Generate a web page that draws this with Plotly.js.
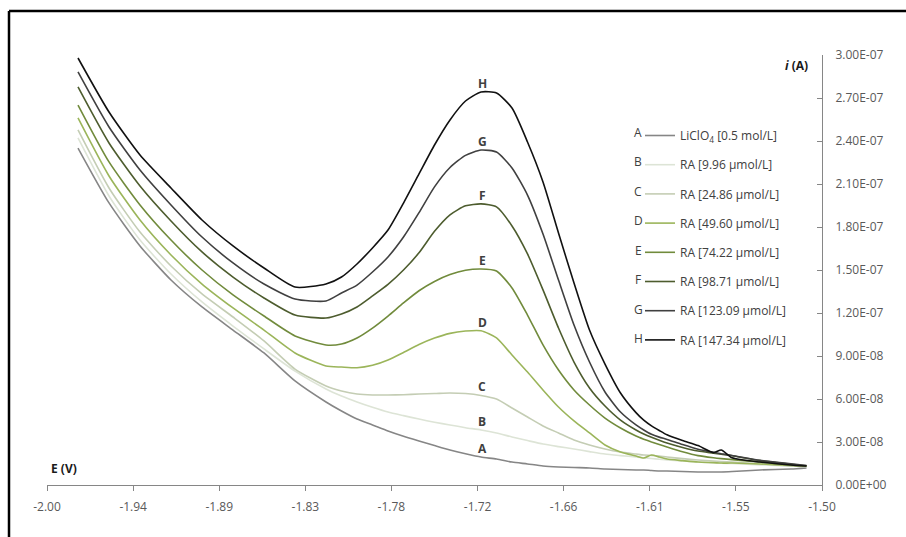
<!DOCTYPE html>
<html>
<head>
<meta charset="utf-8">
<script src="https://cdn.plot.ly/plotly-3.0.1.min.js"></script>
<style>
  html, body { margin: 0; padding: 0; background: #fff; overflow: hidden; }
  #chart { width: 906px; height: 537px; }
</style>
</head>
<body>
<div id="chart"></div>
<script>
// Potential E (V)
const E_V = [-1.98,-1.96,-1.94,-1.92,-1.90,-1.88,-1.86,-1.84,-1.82,-1.81,-1.80,-1.79,-1.78,-1.77,-1.76,-1.75,-1.74,-1.73,-1.72,-1.71,-1.70,-1.69,-1.68,-1.67,-1.66,-1.65,-1.64,-1.63,-1.62,-1.615,-1.61,-1.605,-1.60,-1.59,-1.58,-1.57,-1.565,-1.558,-1.54,-1.52,-1.51];

// Current i, in units of 1e-7 A
const curveA = [2.351,1.968,1.668,1.430,1.242,1.081,0.921,0.726,0.579,0.516,0.460,0.419,0.377,0.340,0.307,0.275,0.244,0.218,0.195,0.181,0.160,0.147,0.133,0.126,0.122,0.119,0.112,0.108,0.105,0.105,0.101,0.098,0.098,0.094,0.091,0.091,0.091,0.094,0.105,0.112,0.119];
const curveB = [2.421,2.016,1.709,1.472,1.277,1.109,0.949,0.795,0.670,0.621,0.579,0.542,0.509,0.484,0.460,0.438,0.419,0.400,0.384,0.363,0.335,0.310,0.286,0.268,0.251,0.233,0.216,0.205,0.195,0.190,0.185,0.180,0.174,0.167,0.160,0.155,0.152,0.150,0.140,0.133,0.129];
const curveC = [2.477,2.072,1.765,1.528,1.333,1.172,1.005,0.809,0.691,0.656,0.635,0.628,0.628,0.630,0.635,0.638,0.642,0.638,0.625,0.600,0.537,0.474,0.412,0.363,0.314,0.279,0.251,0.230,0.216,0.209,0.206,0.202,0.195,0.184,0.174,0.167,0.164,0.160,0.147,0.133,0.129];
const curveD = [2.561,2.156,1.849,1.605,1.402,1.235,1.081,0.921,0.830,0.823,0.818,0.835,0.872,0.925,0.980,1.025,1.058,1.074,1.076,1.026,0.907,0.788,0.663,0.544,0.447,0.363,0.279,0.230,0.202,0.188,0.209,0.195,0.181,0.170,0.160,0.156,0.153,0.153,0.147,0.136,0.133];
const curveE = [2.651,2.254,1.954,1.709,1.500,1.326,1.179,1.040,0.977,0.984,1.026,1.095,1.179,1.270,1.355,1.420,1.468,1.498,1.507,1.493,1.375,1.186,0.977,0.802,0.663,0.558,0.467,0.398,0.342,0.320,0.300,0.282,0.265,0.232,0.205,0.190,0.184,0.177,0.160,0.140,0.133];
const curveF = [2.777,2.386,2.086,1.842,1.626,1.451,1.305,1.186,1.165,1.193,1.242,1.319,1.400,1.500,1.620,1.770,1.885,1.948,1.961,1.940,1.807,1.612,1.361,1.095,0.858,0.677,0.551,0.453,0.384,0.356,0.333,0.312,0.293,0.262,0.237,0.222,0.214,0.204,0.170,0.145,0.134];
const curveG = [2.882,2.498,2.198,1.954,1.730,1.549,1.402,1.298,1.284,1.340,1.395,1.486,1.591,1.730,1.900,2.080,2.215,2.300,2.337,2.323,2.212,2.023,1.751,1.430,1.116,0.858,0.649,0.509,0.419,0.384,0.354,0.334,0.318,0.282,0.250,0.228,0.218,0.206,0.172,0.148,0.136];
const curveH = [2.979,2.602,2.302,2.072,1.849,1.668,1.514,1.381,1.402,1.451,1.542,1.654,1.779,1.967,2.170,2.372,2.547,2.679,2.742,2.735,2.630,2.393,2.114,1.758,1.409,1.081,0.844,0.642,0.505,0.452,0.412,0.380,0.350,0.310,0.275,0.226,0.244,0.190,0.160,0.140,0.133];

const letters = ['A','B','C','D','E','F','G','H'];
const seriesNames = ['LiClO<sub>4</sub> [0.5 mol/L]','RA [9.96 µmol/L]','RA [24.86 µmol/L]','RA [49.60 µmol/L]','RA [74.22 µmol/L]','RA [98.71 µmol/L]','RA [123.09 µmol/L]','RA [147.34 µmol/L]'];
const seriesColors = ['#868686','#dde4d6','#c4cdb4','#9bb55a','#718b3c','#4d5c2e','#404040','#111111'];

const xTickVals = [-2.0,-1.9444,-1.8889,-1.8333,-1.7778,-1.7222,-1.6667,-1.6111,-1.5556,-1.5];
const xTickText = ['-2.00','-1.94','-1.89','-1.83','-1.78','-1.72','-1.66','-1.61','-1.55','-1.50'];
const yTickVals = [0,0.3,0.6,0.9,1.2,1.5,1.8,2.1,2.4,2.7,3.0];
const yTickText = ['0.00E+00','3.00E-08','6.00E-08','9.00E-08','1.20E-07','1.50E-07','1.80E-07','2.10E-07','2.40E-07','2.70E-07','3.00E-07'];

const allCurves = [curveA,curveB,curveC,curveD,curveE,curveF,curveG,curveH];
const labelIdx = E_V.indexOf(-1.72);

const traces = allCurves.map((ys, i) => ({
  x: E_V, y: ys, type: 'scatter', mode: 'lines',
  name: seriesNames[i], legendgroup: letters[i],
  line: {color: seriesColors[i], width: 1.6, shape: 'spline', smoothing: 0.6},
  hoverinfo: 'x+y'
}));

const font = 'Open Sans, Noto Sans, DejaVu Sans, sans-serif';
const annotations = [];
allCurves.forEach((ys, i) => {
  annotations.push({
    x: E_V[labelIdx], y: ys[labelIdx], xref: 'x', yref: 'y',
    text: '<b>' + letters[i] + '</b>', showarrow: false,
    yanchor: 'bottom', yshift: -2, xshift: 1,
    font: {family: font, size: 12, color: '#404040'}
  });
});
// legend letters
const legTop = 132, legStep = 29.5;
letters.forEach((L, i) => {
  annotations.push({
    x: (638 - 47) / 775, y: (485 - (legTop + i * legStep)) / 430,
    xref: 'paper', yref: 'paper', text: L, showarrow: false,
    xanchor: 'center', yanchor: 'middle',
    font: {family: font, size: 12, color: '#404040'}
  });
});
annotations.push({
  x: 0, y: 0, xref: 'paper', yref: 'paper', xanchor: 'left', yanchor: 'bottom',
  xshift: 2, yshift: 6, text: '<b>E (V)</b>', showarrow: false,
  font: {family: font, size: 12, color: '#1a1a1a'}
});
annotations.push({
  x: 1, y: 1, xref: 'paper', yref: 'paper', xanchor: 'right', yanchor: 'top',
  xshift: -12, yshift: 0, text: '<b><i>i</i> (A)</b>', showarrow: false,
  font: {family: font, size: 12, color: '#1a1a1a'}
});

const layout = {
  width: 906, height: 537,
  paper_bgcolor: '#ffffff', plot_bgcolor: '#ffffff',
  margin: {l: 47, r: 84, t: 55, b: 52},
  showlegend: true,
  legend: {
    x: (640 - 47) / 775, y: (485 - 121) / 430, xanchor: 'left', yanchor: 'top',
    font: {family: font, size: 12, color: '#404040'},
    tracegroupgap: 10.2, bgcolor: 'rgba(0,0,0,0)', itemwidth: 30
  },
  xaxis: {
    range: [-2, -1.5], tickvals: xTickVals, ticktext: xTickText,
    showgrid: false, zeroline: false, showline: true, linecolor: '#868686', linewidth: 1,
    ticks: 'outside', ticklen: 5, tickcolor: '#868686',
    tickfont: {family: font, size: 12, color: '#595959'}, ticklabelstandoff: 6
  },
  yaxis: {
    range: [0, 3.0], side: 'right', tickvals: yTickVals, ticktext: yTickText,
    showgrid: false, zeroline: false, showline: true, linecolor: '#868686', linewidth: 1,
    ticks: 'inside', ticklen: 5, tickcolor: '#868686',
    tickfont: {family: font, size: 12, color: '#595959'}, ticklabelstandoff: 10
  },
  annotations: annotations,
  shapes: [
    {type: 'line', xref: 'paper', yref: 'paper', x0: (9 - 47) / 775, x1: (9 - 47) / 775,
     y0: (485 - 560) / 430, y1: (485 - 11) / 430, line: {color: '#000', width: 2.5}},
    {type: 'line', xref: 'paper', yref: 'paper', x0: (9 - 47) / 775, x1: (930 - 47) / 775,
     y0: (485 - 11) / 430, y1: (485 - 11) / 430, line: {color: '#000', width: 2.5}}
  ]
};

Plotly.newPlot('chart', traces, layout, {displayModeBar: false, staticPlot: true});
</script>
</body>
</html>
